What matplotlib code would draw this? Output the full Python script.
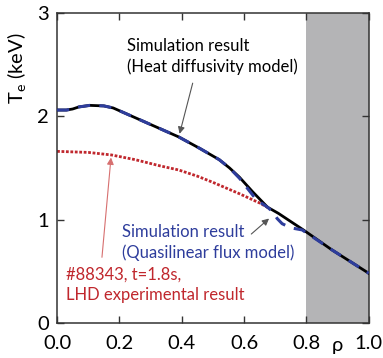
import matplotlib
matplotlib.use("Agg")
import matplotlib.pyplot as plt

plt.rcParams['font.family'] = ['Lato', 'DejaVu Sans']

# radial profiles of electron temperature (keV)
rho_heat = [0.0, 0.03, 0.05, 0.07, 0.105, 0.15, 0.18, 0.21, 0.24, 0.30, 0.39,
            0.457, 0.52, 0.553, 0.585, 0.627, 0.675, 0.71, 0.79, 0.88, 1.0]
te_heat = [2.06, 2.06, 2.07, 2.09, 2.105, 2.10, 2.08, 2.04, 2.00, 1.92, 1.80,
           1.69, 1.58, 1.50, 1.41, 1.27, 1.12, 1.06, 0.90, 0.71, 0.48]

rho_qlf = [0.0, 0.03, 0.05, 0.07, 0.105, 0.15, 0.18, 0.21, 0.24, 0.30, 0.39,
           0.457, 0.52, 0.553, 0.585, 0.64, 0.675, 0.69, 0.706, 0.722, 0.75,
           0.786, 0.88, 1.0]
te_qlf = [2.06, 2.06, 2.07, 2.09, 2.105, 2.10, 2.08, 2.04, 2.00, 1.92, 1.80,
          1.69, 1.58, 1.50, 1.40, 1.19, 1.12, 1.08, 1.01, 0.96, 0.92,
          0.90, 0.71, 0.48]

rho_exp = [0.0, 0.1, 0.175, 0.25, 0.33, 0.39, 0.45, 0.5, 0.585, 0.65, 0.68]
te_exp = [1.66, 1.65, 1.625, 1.58, 1.52, 1.48, 1.42, 1.36, 1.25, 1.16, 1.11]

xticks = [0.0, 0.2, 0.4, 0.6, 0.8, 1.0]
yticks = [0, 1, 2, 3]

col_blue = '#2e3d9c'
col_red = '#c0272d'

fig = plt.figure(figsize=(3.83, 3.58), dpi=100)
ax = fig.add_axes([0.149, 0.098, 0.814, 0.866])

ax.axvspan(0.8, 1.0, color='#b4b4b6', zorder=0, lw=0)

ax.plot(rho_exp, te_exp, color=col_red, lw=2, ls=(0, (1, 0.6)), zorder=2)
ax.plot(rho_heat, te_heat, color='black', lw=2, zorder=3)
ax.plot(rho_qlf, te_qlf, color=col_blue, lw=2.2, ls=(0, (4, 3)), zorder=4)

ax.set_xlim(0, 1)
ax.set_ylim(0, 3)
ax.set_xticks(xticks)
ax.set_xticklabels(['%.1f' % v for v in xticks])
ax.set_yticks(yticks)
ax.tick_params(direction='in', top=True, right=True, length=5, width=1,
               labelsize=14.5, pad=6, color='#333333')
ax.tick_params(axis='x', pad=9)
for s in ax.spines.values():
    s.set_linewidth(1.1)
    s.set_color('#333333')

ax.set_ylabel(r'T$_\mathregular{e}$ (keV)', fontsize=14.5)
ax.yaxis.set_label_coords(-0.09, 0.82)
ax.text(0.9, -0.045, 'ρ', transform=ax.transAxes, ha='center', va='top',
        fontsize=14.5)

# annotations
ax.text(0.225, 2.58, 'Simulation result\n(Heat diffusivity model)', fontsize=12,
        va='center', ha='left', linespacing=1.3)
ax.annotate('', xy=(0.393, 1.83), xytext=(0.435, 2.32),
            arrowprops=dict(arrowstyle='-|>', color='#555555', lw=0.8,
                            mutation_scale=10, shrinkA=0, shrinkB=0))

ax.text(0.207, 0.78, 'Simulation result\n(Quasilinear flux model)', fontsize=12,
        color=col_blue, va='center', ha='left', linespacing=1.3)
ax.annotate('', xy=(0.68, 1.01), xytext=(0.623, 0.86),
            arrowprops=dict(arrowstyle='-|>', color='#555555', lw=0.8,
                            mutation_scale=10, shrinkA=0, shrinkB=0))

ax.text(0.03, 0.37, '#88343, t=1.8s,\nLHD experimental result', fontsize=12,
        color=col_red, va='center', ha='left', linespacing=1.3)
ax.annotate('', xy=(0.173, 1.60), xytext=(0.144, 0.635),
            arrowprops=dict(arrowstyle='-|>', color='#d77070', lw=0.8,
                            mutation_scale=10, shrinkA=0, shrinkB=0))

fig.savefig('out.png', dpi=100)
